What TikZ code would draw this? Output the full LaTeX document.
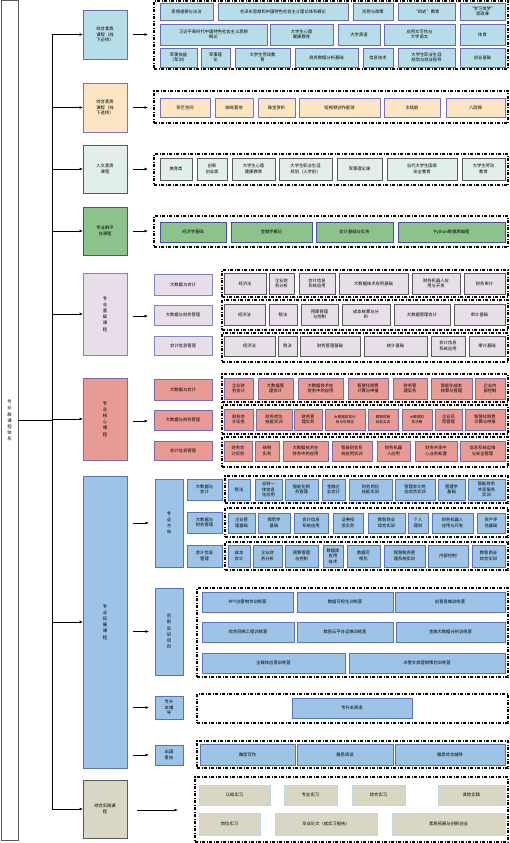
\documentclass[tikz,border=0pt]{standalone}
\usepackage{fontspec}
\newfontfamily\cjk{Noto Sans CJK SC}
\usetikzlibrary{arrows.meta}
\definecolor{F1}{HTML}{B7DEE8}\definecolor{D1}{HTML}{6A6AB0}
\definecolor{F2}{HTML}{FCE5C4}\definecolor{D2}{HTML}{7A72B5}
\definecolor{F3}{HTML}{E1EEEA}\definecolor{D3}{HTML}{5A5A5A}
\definecolor{F4}{HTML}{8CC38A}\definecolor{D4}{HTML}{4A50A0}
\definecolor{F5}{HTML}{E8DEEA}\definecolor{D5}{HTML}{8585BE}\definecolor{E5}{HTML}{5A5A5A}
\definecolor{F6}{HTML}{E89A95}\definecolor{D6}{HTML}{7A6AA8}
\definecolor{F7}{HTML}{9DC3E6}\definecolor{D7}{HTML}{5C72B8}
\definecolor{F8}{HTML}{D9D6C4}\definecolor{D8}{HTML}{5A5A5A}\definecolor{E8}{HTML}{BCD8E6}
\tikzset{
 base/.style={inner sep=0pt,outer sep=0pt,align=center,font=\cjk\fontsize{4.3}{5.4}\selectfont,line width=0.8pt},
 vert/.style={font=\cjk\fontsize{4.4}{6.2}\selectfont},
 rootst/.style={base,vert,fill=white,draw=D3,line width=1pt},
 s1/.style={base,fill=F1,draw=D1},
 s2/.style={base,fill=F2,draw=D2},
 s3/.style={base,fill=F3,draw=D3},
 s4/.style={base,fill=F4,draw=D4},
 s5/.style={base,fill=F5,draw=D5},
 t5/.style={base,fill=F5,draw=E5,line width=1pt},
 s6/.style={base,fill=F6,draw=D6},
 s7/.style={base,fill=F7,draw=D7},
 s8/.style={base,fill=F8,draw=D8,line width=1pt},
 t8/.style={base,fill=F8,draw=E8},
 cont/.style={inner sep=0pt,outer sep=0pt,draw=black,line width=1.1pt,dash pattern=on 3pt off 1.5pt on 1pt off 1.5pt},
 arr/.style={-{Latex[length=3.5pt,width=3pt]},line width=0.7pt},
 link/.style={line width=0.7pt},
}
\newcommand\bx[7]{\node[#6,anchor=north west,minimum width={(#4-(#2))*1pt},minimum height={(#5-(#3))*1pt}] (#1) at (#2,#3) {#7};}
\newcommand\fa[4]{\coordinate (#1s) at (#2,#4);\coordinate (#1e) at (#3,#4);\draw[arr] (#1s) -- (#1e);}
\begin{document}
\begin{tikzpicture}[x=1pt,y=-1pt]
\useasboundingbox[fill=white] (0,0) rectangle (510,843);
% containers
\bx{k1}{154}{1}{508}{69}{cont}{}
\bx{k2}{154}{91}{508}{123}{cont}{}
\bx{k3}{154}{154}{508}{185}{cont}{}
\bx{k4}{154}{216}{508}{247}{cont}{}
\bx{k51}{222}{270}{508}{297}{cont}{}
\bx{k52}{222}{300}{508}{330}{cont}{}
\bx{k53}{222}{333}{508}{362}{cont}{}
\bx{k61}{222}{374}{508}{402}{cont}{}
\bx{k62}{222}{405}{508}{434}{cont}{}
\bx{k63}{222}{437}{508}{467}{cont}{}
\bx{k71}{225}{476}{508}{503}{cont}{}
\bx{k72}{225}{508}{508}{537}{cont}{}
\bx{k73}{225}{542}{508}{570}{cont}{}
\bx{k74}{197}{588}{508}{677}{cont}{}
\bx{k75}{197}{694}{508}{723}{cont}{}
\bx{k76}{197}{741}{508}{768}{cont}{}
\bx{k8}{195}{777}{508}{842}{cont}{}
% root and categories
\bx{root}{1}{1}{18}{840}{rootst}{专\\业\\群\\课\\程\\体\\系}
\bx{c1}{83}{10}{127}{59}{s1}{综合素质\\课程（线\\下必修）}
\bx{c2}{83}{83}{127}{132}{s2}{综合素质\\课程（线\\下选修）}
\bx{c3}{83}{145}{127}{193}{s3,line width=1pt}{人文素质\\课程}
\bx{c4}{83}{207}{127}{255}{s4}{专业群平\\台课程}
\bx{c5}{83}{273}{127}{355}{s5,vert}{专\\业\\基\\础\\课\\程}
\bx{c6}{83}{378}{127}{460}{s6,vert}{专\\业\\核\\心\\课\\程}
\bx{c7}{83}{476}{127}{768}{s7,vert}{专\\业\\拓\\展\\课\\程}
\bx{c8}{83}{780}{127}{838}{s8}{综合实践课\\程}
% trunk
\coordinate (tx) at (52,0);
\draw[link] (root.east) -- (root.east -| tx);
\draw[link] (c1.west -| tx) -- (c8.west -| tx);
\foreach \c in {c1,c2,c3,c4,c5,c6,c7,c8}{\draw[arr] (\c.west -| tx) -- (\c.west);}
% floating arrows
\fa{a1}{133}{148}{34.5}
\fa{a2}{133}{148}{107.5}
\fa{a3}{133}{148}{169}
\fa{a4}{133}{148}{231}
\fa{a5}{133}{148}{316}
\fa{a6}{133}{148}{421}
\fa{a7}{133}{149}{523}
\fa{a8}{133}{149}{631.5}
\fa{a9}{133}{149}{707.5}
\fa{a10}{133}{149}{755}
\fa{a11}{137}{178}{810}
% cat1
\bx{p11}{160}{3}{213}{20}{s1}{思想道德与法治}
\bx{p12}{218}{3}{348}{20}{s1}{毛泽东思想和中国特色社会主义理论体系概论}
\bx{p13}{353}{3}{393}{20}{s1}{形势与政策}
\bx{p14}{398}{3}{455}{20}{s1}{“四史”教育}
\bx{p15}{460}{3}{505}{20}{s1}{“学习筑梦”\\思政课}
\bx{p21}{160}{24}{267}{45}{s1}{习近平新时代中国特色社会主义思想\\概论}
\bx{p22}{270}{24}{333}{45}{s1}{大学生心理\\健康教育}
\bx{p23}{338}{24}{380}{45}{s1}{大学英语}
\bx{p24}{384}{24}{455}{45}{s1}{应用文写作与\\大学语文}
\bx{p25}{460}{24}{505}{45}{s1}{体育}
\bx{p31}{160}{48}{197}{67}{s1}{军事技能\\（军训）}
\bx{p32}{201}{48}{230}{67}{s1}{军事理\\论}
\bx{p33}{235}{48}{290}{67}{s1}{大学生劳动教\\育}
\bx{p34}{295}{48}{358}{67}{s1}{商务数据分析基础}
\bx{p35}{363}{48}{393}{67}{s1}{信息技术}
\bx{p36}{398}{48}{455}{67}{s1}{大学生职业生涯\\规划与就业指导}
\bx{p37}{460}{48}{505}{67}{s1}{创业基础}
% cat2
\bx{q1}{160}{98}{210}{117}{s2}{茶艺空间}
\bx{q2}{215}{98}{253}{117}{s2}{咖啡营地}
\bx{q3}{258}{98}{295}{117}{s2}{珠宝赏析}
\bx{q4}{299}{98}{380}{117}{s2}{短视频创作星球}
\bx{q5}{384}{98}{440}{117}{s2}{太极韵}
\bx{q6}{446}{98}{505}{117}{s2}{八段锦}
% cat3
\bx{r1}{160}{158}{192}{180}{s3}{美育类}
\bx{r2}{197}{158}{227}{180}{s3}{创新\\创业类}
\bx{r3}{232}{158}{275}{180}{s3}{大学生心理\\健康教育}
\bx{r4}{279}{158}{332}{180}{s3}{大学生职业生涯\\规划（入学前）}
\bx{r5}{337}{158}{382}{180}{s3}{军事理论课}
\bx{r6}{387}{158}{457}{180}{s3}{当代大学生国家\\安全教育}
\bx{r7}{462}{158}{505}{180}{s3}{大学生劳动\\教育}
% cat4
\bx{g1}{160}{222}{226}{242}{s4}{经济学基础}
\bx{g2}{231}{222}{312}{242}{s4}{金融学概论}
\bx{g3}{316}{222}{393}{242}{s4}{会计基础与实务}
\bx{g4}{398}{222}{505}{242}{s4}{Python数据库编程}
% cat5
\bx{m1}{154}{274}{212}{295}{s5}{大数据与会计}
\bx{m2}{154}{305}{212}{325}{s5}{大数据与财务管理}
\bx{m3}{154}{336}{212}{355}{s5}{会计信息管理}
\bx{u11}{224}{273}{266}{294}{t5}{经济法}
\bx{u12}{269}{273}{294}{294}{t5}{企业财\\务分析}
\bx{u13}{299}{273}{335}{294}{t5}{会计信息\\系统应用}
\bx{u14}{339}{273}{408}{294}{t5}{大数据技术应用基础}
\bx{u15}{412}{273}{460}{294}{t5}{财务机器人应\\用与开发}
\bx{u16}{464}{273}{505}{294}{t5}{财务审计}
\bx{u21}{224}{304}{265}{325}{t5}{经济法}
\bx{u22}{269}{304}{297}{325}{t5}{税法}
\bx{u23}{301}{304}{338}{325}{t5}{预算管理\\与控制}
\bx{u24}{342}{304}{390}{325}{t5}{成本核算与分\\析}
\bx{u25}{394}{304}{450}{325}{t5}{大数据管理会计}
\bx{u26}{454}{304}{505}{325}{t5}{审计基础}
\bx{u31}{224}{336}{275}{356}{t5}{经济法}
\bx{u32}{278}{336}{297}{356}{t5}{税法}
\bx{u33}{300}{336}{360}{356}{t5}{财务管理基础}
\bx{u34}{364}{336}{427}{356}{t5}{统计基础}
\bx{u35}{431}{336}{465}{356}{t5}{会计信息\\系统应用}
\bx{u36}{469}{336}{505}{356}{t5}{审计基础}
% cat6
\bx{n1}{154}{379}{212}{400}{s6}{大数据与会计}
\bx{n2}{154}{410}{212}{430}{s6}{大数据与财务管理}
\bx{n3}{154}{441}{212}{460}{s6}{会计信息管理}
\bx{v11}{224}{378}{253}{399}{s6}{企业财\\务会计}
\bx{v12}{258}{378}{293}{399}{s6}{大数据管\\理会计}
\bx{v13}{298}{378}{343}{399}{s6}{大数据技术在\\财务中的应用}
\bx{v14}{348}{378}{388}{399}{s6}{智慧化税费\\计算与申报}
\bx{v15}{393}{378}{427}{399}{s6}{财务管\\理实务}
\bx{v16}{431}{378}{472}{399}{s6}{智能化成本\\核算与管理}
\bx{v17}{475}{378}{505}{399}{s6}{企业内\\部控制}
\bx{v21}{224}{409}{253}{430}{s6}{财务会\\计实务}
\bx{v22}{256}{409}{292}{430}{s6}{财务岗位\\技能实训}
\bx{v23}{294}{409}{322}{430}{s6}{财务管\\理实务}
\bx{v24}{325}{409}{365}{430}{s6,font=\cjk\fontsize{3.6}{4.8}\selectfont}{大数据财务分\\析与可视化}
\bx{v25}{368}{409}{398}{430}{s6,font=\cjk\fontsize{3.6}{4.8}\selectfont}{数智财管\\综合实训}
\bx{v26}{402}{409}{432}{430}{s6,font=\cjk\fontsize{3.6}{4.8}\selectfont}{大数据财\\务决策}
\bx{v27}{435}{409}{462}{430}{s6}{企业风\\险管理}
\bx{v28}{465}{409}{505}{430}{s6}{智慧化税费\\计算与申报}
\bx{v31}{224}{441}{252}{461}{s6}{财务会\\计实务}
\bx{v32}{255}{441}{279}{461}{s6}{纳税\\实务}
\bx{v33}{283}{441}{328}{461}{s6}{大数据技术在\\财务中的应用}
\bx{v34}{332}{441}{372}{461}{s6}{智能财会系\\统应用实训}
\bx{v35}{377}{441}{410}{461}{s6}{财务机器\\人应用}
\bx{v36}{415}{441}{457}{461}{s6}{财务共享中\\心业务处理}
\bx{v37}{460}{441}{505}{461}{s6}{信息系统运维\\与安全管理}
% cat7
\bx{d1}{155}{479}{183}{567}{s7,vert}{专\\业\\方\\向}
\bx{d2}{155}{588}{183}{675}{s7,vert}{创\\新\\实\\训\\项\\目}
\bx{d3}{155}{696}{183}{719}{s7}{专升\\本辅\\导}
\bx{d4}{155}{745}{183}{765}{s7}{出国\\意向}
\bx{e1}{187}{479}{222}{500}{s7}{大数据与\\会计}
\bx{e2}{187}{512}{222}{533}{s7}{大数据与\\财务管理}
\bx{e3}{187}{545}{222}{567}{s7}{会计信息\\管理}
\bx{w11}{228}{479}{250}{500}{s7}{税法}
\bx{w12}{255}{479}{282}{500}{s7}{业财一\\体信息\\化应用}
\bx{w13}{285}{479}{318}{500}{s7}{智能化税\\务管理}
\bx{w14}{322}{479}{345}{500}{s7}{金融企\\业会计}
\bx{w15}{349}{479}{392}{500}{s7}{财务岗位\\技能实训}
\bx{w16}{395}{479}{435}{500}{s7}{管理会计岗\\位综合实训}
\bx{w17}{438}{479}{465}{500}{s7}{管理学\\基础}
\bx{w18}{468}{479}{505}{500}{s7}{智能财务\\共享服务\\实训}
\bx{w21}{228}{513}{255}{533}{s7}{企业管\\理基础}
\bx{w22}{258}{513}{290}{533}{s7}{保险学\\基础}
\bx{w23}{294}{513}{328}{533}{s7}{会计信息\\系统应用}
\bx{w24}{333}{513}{363}{533}{s7}{证券投\\资实务}
\bx{w25}{368}{513}{405}{533}{s7}{数智商业\\综合实训}
\bx{w26}{408}{513}{428}{533}{s7}{个人\\理财}
\bx{w27}{432}{513}{473}{533}{s7}{财务机器人\\应用与开发}
\bx{w28}{477}{513}{505}{533}{s7}{资产评\\估基础}
\bx{w31}{228}{545}{250}{567}{s7}{成本\\会计}
\bx{w32}{253}{545}{282}{567}{s7}{企业财\\务分析}
\bx{w33}{285}{545}{318}{567}{s7}{预算管理\\与控制}
\bx{w34}{323}{545}{343}{567}{s7}{数据库\\应用\\技术}
\bx{w35}{347}{545}{380}{567}{s7}{数据可\\视化}
\bx{w36}{384}{545}{425}{567}{s7}{智慧税务管\\理系统实训}
\bx{w37}{428}{545}{468}{567}{s7}{内部控制}
\bx{w38}{472}{545}{505}{567}{s7}{数智商业\\综合实训}
\bx{x11}{202}{592}{293}{612}{s7}{PPT创意制作训练营}
\bx{x12}{297}{592}{393}{612}{s7}{数据可视化训练营}
\bx{x13}{395}{592}{505}{612}{s7}{创意思维训练营}
\bx{x21}{202}{622}{294}{642}{s7}{综合网络工程训练营}
\bx{x22}{297}{622}{393}{642}{s7}{数智云平台运维训练营}
\bx{x23}{396}{622}{505}{642}{s7}{金融大数据分析训练营}
\bx{x31}{202}{653}{345}{673}{s7}{全媒体创意训练营}
\bx{x32}{349}{653}{505}{673}{s7}{冰雪文旅营销策划训练营}
\bx{y1}{292}{698}{412}{718}{s7}{专升本英语}
\bx{z1}{200}{744}{295}{765}{s7}{雅思写作}
\bx{z2}{297}{744}{393}{765}{s7}{雅思阅读}
\bx{z3}{395}{744}{505}{765}{s7}{雅思综合辅导}
% cat8
\bx{h1}{199}{785}{270}{805}{t8}{认知实习}
\bx{h2}{284}{785}{337}{805}{t8}{专业实习}
\bx{h3}{352}{785}{405}{805}{t8}{综合实习}
\bx{h4}{438}{785}{505}{805}{t8}{其他实践}
\bx{h5}{199}{813}{260}{835}{t8}{岗位实习}
\bx{h6}{275}{813}{377}{835}{t8}{毕业论文（或实习报告）}
\bx{h7}{392}{813}{505}{835}{t8}{素质拓展与创新创业}
\end{tikzpicture}
\end{document}
